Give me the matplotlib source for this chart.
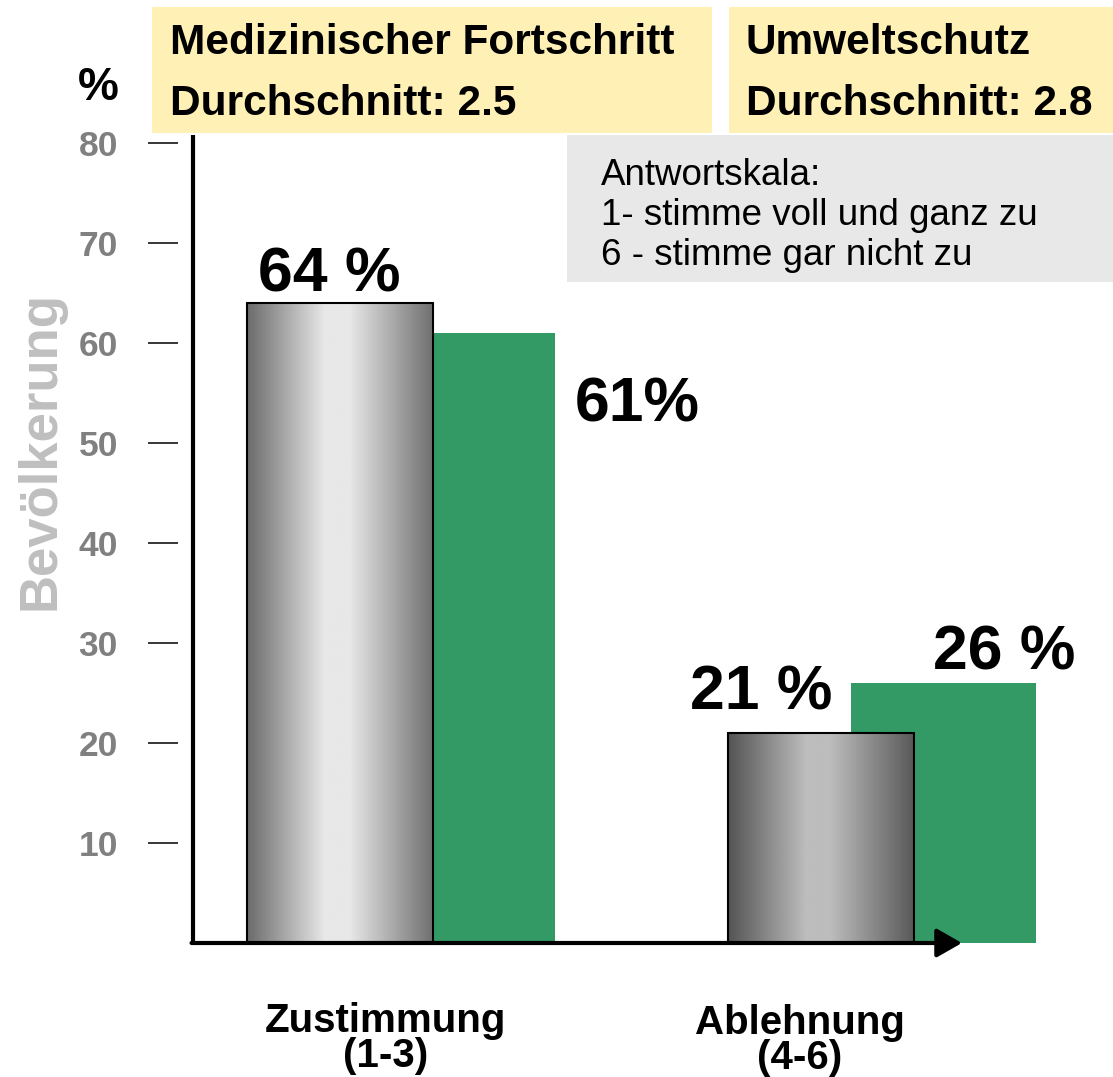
import numpy as np
import matplotlib.pyplot as plt
from matplotlib.patches import Rectangle

plt.rcParams["font.family"] = ["Liberation Sans", "DejaVu Sans"]

# data
groups = ["Zustimmung", "Ablehnung"]
group_ranges = ["(1-3)", "(4-6)"]
medizin = [64, 21]
umwelt = [61, 26]
medizin_labels = ["64 %", "21 %"]
umwelt_labels = ["61%", "26 %"]
yticks = [10, 20, 30, 40, 50, 60, 70, 80]
topics = ["Medizinischer Fortschritt", "Umweltschutz"]
averages = [2.5, 2.8]
scale_lines = ["Antwortskala:", "1- stimme voll und ganz zu", "6 - stimme gar nicht zu"]

W, H = 1113, 1077
fig = plt.figure(figsize=(W / 100, H / 100), dpi=100)


def fx(px):
    return px / W


def fy(py):
    return 1 - py / H


def box(x0, y0, x1, y1, color):
    fig.add_artist(Rectangle((fx(x0), fy(y1)), (x1 - x0) / W, (y1 - y0) / H,
                             transform=fig.transFigure, color=color, lw=0, zorder=-1))


# header boxes
box(152, 7, 712, 133, "#FFF0B6")
box(729, 7, 1113, 133, "#FFF0B6")
box(567, 135, 1113, 282, "#E8E8E8")

for (xl, title), avg in zip([(170, topics[0]), (746, topics[1])], averages):
    fig.text(fx(xl), fy(54), title, fontsize=30.5, fontweight="bold", va="baseline")
    fig.text(fx(xl), fy(115), f"Durchschnitt: {avg}", fontsize=30.5, fontweight="bold", va="baseline")

for line, yb in zip(scale_lines, [185, 225, 265]):
    fig.text(fx(601), fy(yb), line, fontsize=26.5, va="baseline")

fig.text(fx(98), fy(100), "%", fontsize=33, fontweight="bold", ha="center", va="baseline")
fig.text(fx(41), fy(450), "Bevölkerung", fontsize=38, fontweight="bold", color="#BFBFBF",
         rotation=90, ha="center", va="center")

ax = fig.add_axes([fx(193), fy(943), (W - 193) / W, 800 / H])
ax.patch.set_visible(False)
x = np.arange(len(groups))
bw = 0.385
xlim = (-0.3056, 1.6071)

ax.bar(x + 0.255, umwelt, bw, color="#349A65", zorder=1)
bars = ax.bar(x, medizin, bw, facecolor="none", edgecolor="black", lw=1.5, zorder=3)

# cylinder shading on the grey bars
t = np.linspace(0, 1, 256)
ramps = [(0.42, 0.91, 0.44), (0.33, 0.74, 0.35)]
for b, (lo, hi, ro) in zip(bars, ramps):
    shade = np.interp(t, [0, 0.42, 0.55, 1], [lo, hi, hi, ro])
    im = ax.imshow(shade[None, :], cmap="gray", vmin=0, vmax=1, aspect="auto",
                   extent=[b.get_x(), b.get_x() + b.get_width(), 0, b.get_height()], zorder=2)
    im.set_clip_path(b)

ax.set_xlim(*xlim)
ax.set_ylim(0, 80)

# axes: thick y line, arrow along x
ax.plot([xlim[0], xlim[0]], [0, 80.8], color="black", lw=3, clip_on=False,
        solid_capstyle="butt", zorder=4)
ax.annotate("", xy=(1.293, 0), xytext=(xlim[0] - 0.003, 0),
            arrowprops=dict(arrowstyle="-|>,head_length=0.7,head_width=0.4", lw=3,
                            color="black", shrinkA=0, shrinkB=0, mutation_scale=22),
            annotation_clip=False, zorder=4)

for s in ax.spines.values():
    s.set_visible(False)
ax.spines["left"].set_position(("outward", 10.8))
ax.set_yticks(yticks, labels=[str(v) for v in yticks], fontweight="bold")
ax.tick_params(axis="y", length=21.6, width=1.1, pad=21.6, labelsize=25.5,
               labelcolor="#808080", color="black")
ax.set_xticks([])

# value labels
val_style = dict(fontsize=45, fontweight="bold", textcoords="offset pixels",
                 va="baseline", annotation_clip=False, zorder=5)
med_off = [(-11, 11), (-60, 24)]
for b, lab, (dx, dy) in zip(bars, medizin_labels, med_off):
    ax.annotate(lab, xy=(b.get_x() + b.get_width() / 2, b.get_height()),
                xytext=(dx, dy), ha="center", **val_style)
ax.annotate(umwelt_labels[0], xy=(x[0] + 0.255 + bw / 2, umwelt[0]), xytext=(20, -88),
            ha="left", **val_style)
ax.annotate(umwelt_labels[1], xy=(x[1] + 0.255, umwelt[1]), xytext=(61, 13),
            ha="center", **val_style)

# category labels
label_x = [0.094, 0.956]
for cx, name, rng, dy in zip(label_x, groups, group_ranges, [0, -2]):
    for txt, off in [(name, -89), (rng, -124)]:
        ax.annotate(txt, xy=(cx, 0), xytext=(0, off + dy), textcoords="offset pixels",
                    ha="center", va="baseline", fontsize=29, fontweight="bold",
                    annotation_clip=False)

fig.savefig("out.png", dpi=100)
